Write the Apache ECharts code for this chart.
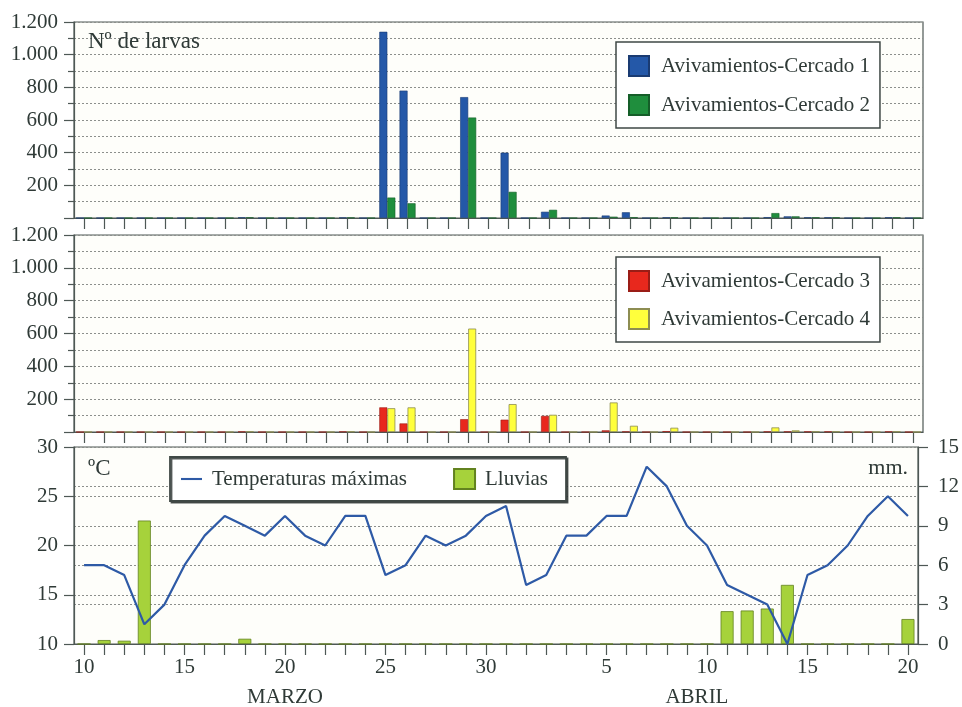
<!DOCTYPE html>
<html>
<head>
<meta charset="utf-8">
<script src="https://cdn.jsdelivr.net/npm/echarts@6/dist/echarts.min.js"></script>
<style>
  html, body { margin: 0; padding: 0; background: #ffffff; }
  #chart { width: 962px; height: 707px; }
</style>
</head>
<body>
<div id="chart"></div>
<script>
// Days shown on the time axis: 10–31 March, 1–20 April
const marchDays = [10, 11, 12, 13, 14, 15, 16, 17, 18, 19, 20, 21, 22, 23, 24, 25, 26, 27, 28, 29, 30, 31];
const aprilDays = [1, 2, 3, 4, 5, 6, 7, 8, 9, 10, 11, 12, 13, 14, 15, 16, 17, 18, 19, 20];

// Larvae hatched per day (Nº de larvas)
const cercado1 = [0, 0, 0, 0, 0, 0, 0, 0, 4, 0, 0, 0, 0, 3, 0, 1140, 780, 0, 0, 740, 0, 400,
                  0, 38, 0, 0, 15, 35, 0, 4, 0, 0, 0, 0, 5, 10, 4, 4, 0, 0, 4, 0];
const cercado2 = [0, 0, 0, 0, 0, 0, 0, 0, 4, 0, 0, 0, 0, 3, 0, 125, 90, 0, 0, 615, 0, 160,
                  0, 50, 0, 0, 8, 5, 0, 4, 0, 0, 0, 0, 30, 10, 4, 4, 0, 0, 4, 0];
const cercado3 = [0, 0, 0, 0, 0, 0, 0, 0, 3, 0, 0, 0, 0, 3, 0, 150, 52, 0, 0, 78, 0, 75,
                  0, 98, 0, 0, 10, 3, 0, 5, 0, 0, 0, 0, 3, 3, 3, 3, 0, 0, 3, 0];
const cercado4 = [0, 0, 0, 0, 0, 0, 0, 0, 3, 0, 0, 0, 0, 3, 0, 145, 150, 0, 0, 630, 0, 170,
                  0, 105, 0, 0, 180, 38, 0, 26, 0, 0, 0, 0, 28, 10, 3, 3, 0, 0, 3, 0];

// Daily maximum temperature (ºC) and rainfall (mm)
const tempMax = [18, 18, 17, 12, 14, 18, 21, 23, 22, 21, 23, 21, 20, 23, 23, 17, 18, 21, 20, 21, 23, 24,
                 16, 17, 21, 21, 23, 23, 28, 26, 22, 20, 16, 15, 14, 10, 17, 18, 20, 23, 25, 23];
const lluvias = [0, 0.3, 0.25, 9.4, 0, 0, 0, 0, 0.4, 0, 0, 0, 0, 0, 0, 0, 0, 0, 0, 0, 0, 0,
                 0, 0, 0, 0, 0, 0, 0, 0, 0, 0, 2.5, 2.55, 2.7, 4.5, 0, 0, 0, 0, 0, 1.9];

// Axis scales
const larvaTicks = { min: 0, max: 1200, step: 200 };
const tempTicks = { min: 10, max: 30, step: 5 };
const rainTicks = { min: 0, max: 15, step: 3 };
const monthNames = ['MARZO', 'ABRIL'];

const categories = marchDays.map(d => d + ' mar').concat(aprilDays.map(d => d + ' abr'));
const dayOf = name => parseInt(name, 10);

const FONT = 'Liberation Serif';
const INK = '#2f3a37';
const FRAME = '#4e5855';
const DOTS = { color: '#8c8f8c', width: 1, type: [2, 2] };

const fmtThousands = v => {
  if (v === 0) return '';
  if (v >= 1000) return Math.floor(v / 1000) + '.' + String(v % 1000).padStart(3, '0');
  return String(v);
};

const gridBase = { left: 74, width: 849, show: true, backgroundColor: '#fefefa', borderColor: FRAME, borderWidth: 1.2 };

function dayAxis(gridIndex, withLabels) {
  return {
    type: 'category',
    gridIndex,
    data: categories,
    boundaryGap: true,
    axisLine: { show: true, lineStyle: { color: FRAME, width: 1.2 } },
    axisTick: { show: true, alignWithLabel: true, interval: 0, length: 11, lineStyle: { color: FRAME, width: 1.2 } },
    axisLabel: {
      show: withLabels,
      interval: 0,
      margin: 13,
      fontFamily: FONT, fontSize: 21, color: INK,
      formatter: name => (dayOf(name) % 5 === 0 ? String(dayOf(name)) : '')
    },
    splitLine: { show: false }
  };
}

function larvaAxis(gridIndex) {
  return {
    type: 'value',
    gridIndex,
    min: larvaTicks.min, max: larvaTicks.max, interval: larvaTicks.step,
    axisLine: { show: true, lineStyle: { color: FRAME, width: 1.2 } },
    axisTick: { show: true, length: 10, lineStyle: { color: FRAME, width: 1.2 } },
    minorTick: { show: true, splitNumber: 2, length: 6, lineStyle: { color: FRAME, width: 1.2 } },
    axisLabel: { margin: 16, fontFamily: FONT, fontSize: 21, color: INK, formatter: fmtThousands },
    splitLine: { show: true, lineStyle: DOTS },
    minorSplitLine: { show: true, lineStyle: DOTS }
  };
}

const legendBox = {
  backgroundColor: '#ffffff', borderColor: '#3f4845', borderWidth: 1.5,
  selectedMode: false
};

const option = {
  backgroundColor: '#ffffff',
  animation: false,
  grid: [
    Object.assign({ top: 22, height: 196 }, gridBase),
    Object.assign({ top: 235, height: 197 }, gridBase),
    Object.assign({ top: 447, height: 197 }, gridBase)
  ],
  xAxis: [dayAxis(0, false), dayAxis(1, false), dayAxis(2, true)],
  yAxis: [
    larvaAxis(0),
    larvaAxis(1),
    {
      type: 'value', gridIndex: 2, position: 'left',
      min: tempTicks.min, max: tempTicks.max, interval: tempTicks.step,
      axisLine: { show: true, lineStyle: { color: FRAME, width: 1.2 } },
      axisTick: { show: true, length: 10, lineStyle: { color: FRAME, width: 1.2 } },
      axisLabel: { margin: 16, fontFamily: FONT, fontSize: 21, color: INK },
      splitLine: { show: true, lineStyle: DOTS }
    },
    {
      type: 'value', gridIndex: 2, position: 'right',
      min: rainTicks.min, max: rainTicks.max, interval: rainTicks.step,
      axisLine: { show: true, lineStyle: { color: FRAME, width: 1.2 } },
      axisTick: { show: true, length: 10, lineStyle: { color: FRAME, width: 1.2 } },
      axisLabel: { margin: 20, fontFamily: FONT, fontSize: 21, color: INK },
      splitLine: { show: true, lineStyle: DOTS }
    }
  ],
  legend: [
    Object.assign({
      data: ['Avivamientos-Cercado 1', 'Avivamientos-Cercado 2'],
      orient: 'vertical', left: 616, top: 42,
      icon: 'rect', itemWidth: 20, itemHeight: 20, itemGap: 17,
      padding: [13, 10, 12, 12],
      textStyle: { fontFamily: FONT, fontSize: 21, color: INK, padding: [0, 0, 0, 7] }
    }, legendBox),
    Object.assign({
      data: ['Avivamientos-Cercado 3', 'Avivamientos-Cercado 4'],
      orient: 'vertical', left: 616, top: 257,
      icon: 'rect', itemWidth: 20, itemHeight: 20, itemGap: 16,
      padding: [13, 10, 12, 12],
      textStyle: { fontFamily: FONT, fontSize: 21, color: INK, padding: [0, 0, 0, 7] }
    }, legendBox),
    Object.assign({
      data: [
        { name: 'Temperaturas máximas', icon: 'path://M0,0 L24,0 L24,2.4 L0,2.4 Z' },
        { name: 'Lluvias', icon: 'rect' }
      ],
      orient: 'horizontal', left: 170, top: 457,
      itemWidth: 21, itemHeight: 20, itemGap: 46,
      symbolKeepAspect: true,
      padding: [11, 18, 11, 11],
      shadowColor: 'rgba(40,48,45,0.8)', shadowOffsetX: 1.5, shadowOffsetY: 1.5, shadowBlur: 0,
      textStyle: { fontFamily: FONT, fontSize: 21, color: INK, padding: [0, 0, 0, 5] }
    }, legendBox, { borderWidth: 1.8 })
  ],
  series: [
    {
      name: 'Avivamientos-Cercado 1', type: 'bar', xAxisIndex: 0, yAxisIndex: 0,
      data: cercado1, barWidth: 8, barGap: '0%',
      itemStyle: { color: '#2458a8', borderColor: '#1a3b72', borderWidth: 0.6 }
    },
    {
      name: 'Avivamientos-Cercado 2', type: 'bar', xAxisIndex: 0, yAxisIndex: 0,
      data: cercado2, barWidth: 8, barGap: '0%',
      itemStyle: { color: '#1f8e3d', borderColor: '#155e29', borderWidth: 0.6 }
    },
    {
      name: 'Avivamientos-Cercado 3', type: 'bar', xAxisIndex: 1, yAxisIndex: 1,
      data: cercado3, barWidth: 8, barGap: '0%',
      itemStyle: { color: '#e8281d', borderColor: '#9a1d16', borderWidth: 0.6 }
    },
    {
      name: 'Avivamientos-Cercado 4', type: 'bar', xAxisIndex: 1, yAxisIndex: 1,
      data: cercado4, barWidth: 8, barGap: '0%',
      itemStyle: { color: '#ffff3c', borderColor: '#8d8d52', borderWidth: 0.8 }
    },
    {
      name: 'Lluvias', type: 'bar', xAxisIndex: 2, yAxisIndex: 3,
      data: lluvias, barWidth: 13,
      itemStyle: { color: '#a6d23b', borderColor: '#62821f', borderWidth: 0.8 }
    },
    {
      name: 'Temperaturas máximas', type: 'line', xAxisIndex: 2, yAxisIndex: 2,
      data: tempMax, symbol: 'none', z: 5,
      lineStyle: { color: '#2e5aa6', width: 2.2 },
      itemStyle: { color: '#2e5aa6' }
    }
  ]
};

const chart = echarts.init(document.getElementById('chart'), null, { renderer: 'canvas' });
chart.setOption(option);

// Panel captions and month names under the day axis
const marzoX = chart.convertToPixel({ xAxisIndex: 2 }, '20 mar');
const abrilX = (chart.convertToPixel({ xAxisIndex: 2 }, '9 abr') + chart.convertToPixel({ xAxisIndex: 2 }, '10 abr')) / 2;
const caption = (text, x, y, align, size) => ({
  type: 'text', x, y,
  style: { text, x: 0, y: 0, fontFamily: FONT, fontSize: size || 21, fill: INK, align: align || 'left', verticalAlign: 'middle' }
});
chart.setOption({
  graphic: [
    caption('Nº de larvas', 88, 42, 'left', 23),
    caption('ºC', 88, 469, 'left', 23),
    caption('mm.', 908, 468, 'right', 22),
    caption(monthNames[0], marzoX, 697, 'center'),
    caption(monthNames[1], abrilX, 697, 'center')
  ]
});
</script>
</body>
</html>
